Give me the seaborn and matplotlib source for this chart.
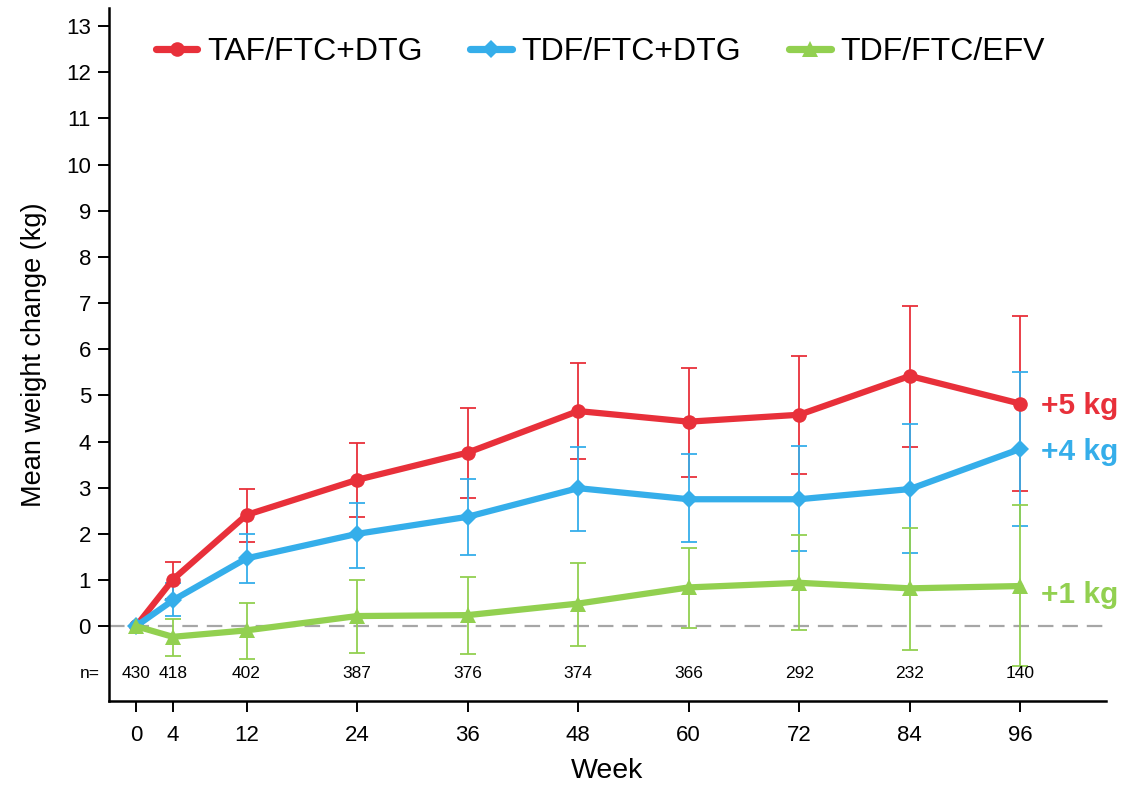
import matplotlib
matplotlib.use("Agg")
import matplotlib.pyplot as plt
import seaborn as sns
import numpy as np
import pandas as pd

weeks = [0, 4, 12, 24, 36, 48, 60, 72, 84, 96]
n_at_risk = [430, 418, 402, 387, 376, 374, 366, 292, 232, 140]

series_names = ["TAF/FTC+DTG", "TDF/FTC+DTG", "TDF/FTC/EFV"]

taf_mean = [0, 1.01, 2.41, 3.17, 3.76, 4.66, 4.43, 4.58, 5.42, 4.82]
taf_low = [0, 0.59, 1.82, 2.36, 2.78, 3.62, 3.24, 3.30, 3.89, 2.93]
taf_high = [0, 1.38, 2.97, 3.96, 4.72, 5.70, 5.59, 5.86, 6.94, 6.72]

tdf_mean = [0, 0.56, 1.47, 2.00, 2.37, 2.99, 2.75, 2.75, 2.97, 3.84]
tdf_low = [0, 0.22, 0.93, 1.27, 1.54, 2.07, 1.82, 1.63, 1.58, 2.18]
tdf_high = [0, 0.93, 1.99, 2.67, 3.19, 3.88, 3.73, 3.90, 4.37, 5.51]

efv_mean = [0, -0.23, -0.09, 0.22, 0.24, 0.49, 0.84, 0.94, 0.82, 0.87]
efv_low = [0, -0.65, -0.70, -0.59, -0.61, -0.43, -0.03, -0.09, -0.51, -0.87]
efv_high = [0, 0.15, 0.51, 1.01, 1.07, 1.37, 1.69, 1.97, 2.13, 2.62]

end_labels = ["+5 kg", "+4 kg", "+1 kg"]

colors = ["#E8303A", "#35AEEA", "#92D050"]
markers = ["o", "D", "^"]
msizes = [10.5, 9.5, 11]
label_offsets = [-0.23, -0.24, -0.37]

sns.set_theme(style="ticks")
plt.rcParams["font.family"] = ["Liberation Sans", "DejaVu Sans"]
plt.rcParams["text.color"] = "black"
plt.rcParams["axes.labelcolor"] = "black"
plt.rcParams["xtick.color"] = "black"
plt.rcParams["ytick.color"] = "black"

fig = plt.figure(figsize=(11.24, 7.85), dpi=100)
ax = fig.add_axes([109 / 1124, 84 / 785, 997 / 1124, 693 / 785])

means = [taf_mean, tdf_mean, efv_mean]
lows = [taf_low, tdf_low, efv_low]
highs = [taf_high, tdf_high, efv_high]

ax.hlines(0, -2.93, 105.3, colors="#A6A6A6", linestyles=(0, (7, 4)), linewidth=1.6, zorder=1)

for i in range(3):
    m = np.array(means[i])
    lo = np.array(lows[i])
    hi = np.array(highs[i])
    ax.errorbar(weeks[1:], m[1:], yerr=[m[1:] - lo[1:], hi[1:] - m[1:]], fmt="none",
                ecolor=colors[i], elinewidth=1.3, capsize=5.5, capthick=1.3, zorder=2)

for i in range(3):
    df = pd.DataFrame({"Week": weeks, "val": means[i]})
    sns.lineplot(data=df, x="Week", y="val", ax=ax, color=colors[i], marker=markers[i],
                 markersize=msizes[i], markeredgewidth=0, linewidth=4.5,
                 label=series_names[i], zorder=3 + i)

for i in range(3):
    ax.text(98.2, means[i][-1] + label_offsets[i], end_labels[i], color=colors[i], fontsize=21.5,
            fontweight="bold", va="baseline", ha="left", clip_on=False)

for w, n in zip(weeks, n_at_risk):
    ax.text(w, -1.02, str(n), ha="center", va="center", fontsize=12.5, color="black")
ax.text(-5.0, -1.02, "n=", ha="center", va="center", fontsize=12.5, color="black", clip_on=False)

ax.set_xlim(-2.93, 105.3)
ax.set_ylim(-1.62, 13.39)
ax.set_xticks(weeks)
ax.set_yticks(range(0, 14))
ax.tick_params(axis="both", labelsize=16, length=8, width=1.4, color="black",
               labelcolor="black", pad=5)
ax.tick_params(axis="x", pad=9)
for s in ["top", "right"]:
    ax.spines[s].set_visible(False)
for s in ["left", "bottom"]:
    ax.spines[s].set_linewidth(1.8)
    ax.spines[s].set_color("black")
ax.set_xlabel("Week", fontsize=20.5, labelpad=9, color="black")
ax.set_ylabel("Mean weight change (kg)", fontsize=19.5, labelpad=14, color="black")
ax.grid(False)

leg = ax.legend(loc="upper left", bbox_to_anchor=(0.047, 0.958), ncol=3, frameon=False,
                fontsize=23, handlelength=1.3, handletextpad=0.3, columnspacing=1.5,
                borderaxespad=0, borderpad=0)
for t in leg.get_texts():
    t.set_color("black")
for h in leg.legend_handles:
    h.set_linewidth(5.2)

fig.savefig("out.png", dpi=100)
